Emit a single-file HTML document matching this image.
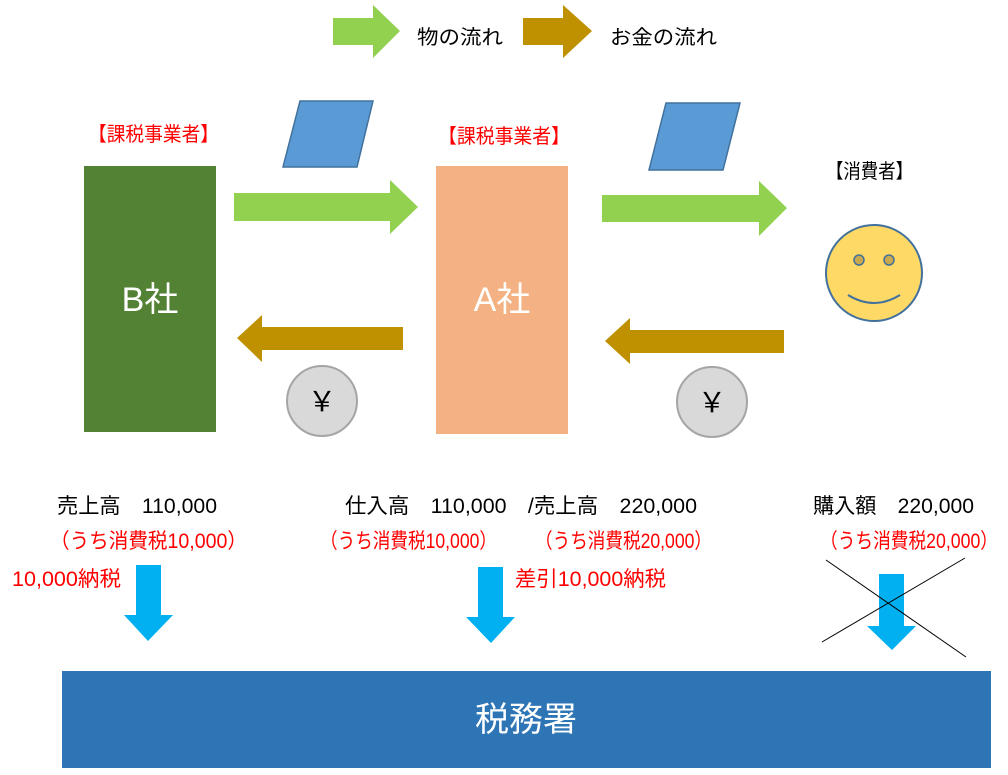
<!DOCTYPE html>
<html><head><meta charset="utf-8"><style>
html,body{margin:0;padding:0;background:#fff;width:1008px;height:775px;overflow:hidden}
svg text{font-family:"Liberation Sans","Noto Sans CJK JP",sans-serif}
</style></head><body>
<svg width="1008" height="775" viewBox="0 0 1008 775" xmlns="http://www.w3.org/2000/svg">
<polygon points="333,18 373,18 373,5 400,31 373,58 373,45 333,45" fill="#92d050"/>
<text x="417" y="44" font-size="20" textLength="86" lengthAdjust="spacingAndGlyphs">物の流れ</text>
<polygon points="523,18 563,18 563,5 592,31 563,58 563,45 523,45" fill="#bf9000"/>
<text x="610" y="44" font-size="20" textLength="107" lengthAdjust="spacingAndGlyphs">お金の流れ</text>

<text x="88" y="141" font-size="20" fill="#ff0000" textLength="131" lengthAdjust="spacingAndGlyphs">【課税事業者】</text>
<text x="438" y="143" font-size="20" fill="#ff0000" textLength="132" lengthAdjust="spacingAndGlyphs">【課税事業者】</text>
<text x="826" y="178" font-size="20" fill="#000" textLength="87" lengthAdjust="spacingAndGlyphs">【消費者】</text>

<rect x="84" y="166" width="132" height="266" fill="#548235"/>
<text x="150" y="311" font-size="34" fill="#fff" text-anchor="middle">B社</text>
<rect x="436" y="166" width="132" height="268" fill="#f4b183"/>
<text x="502" y="311" font-size="34" fill="#fff" text-anchor="middle">A社</text>

<polygon points="300,101 373,101 357,167 283,167" fill="#5b9bd5" stroke="#41719c" stroke-width="1.5"/>
<polygon points="666,103 740,103 723,170 649,170" fill="#5b9bd5" stroke="#41719c" stroke-width="1.5"/>

<polygon points="234,193 390,193 390,180 418,207 390,234 390,221 234,221" fill="#92d050"/>
<polygon points="602,195 759,195 759,181 787,208 759,236 759,222 602,222" fill="#92d050"/>

<polygon points="403,327 262,327 262,315 237,338 262,362 262,350 403,350" fill="#bf9000"/>
<polygon points="784,330 630,330 630,318 605,341 630,364 630,353 784,353" fill="#bf9000"/>

<circle cx="322" cy="401" r="35" fill="#d9d9d9" stroke="#a5a5a5" stroke-width="2"/>
<text x="322" y="411" font-size="28" text-anchor="middle">￥</text>
<circle cx="712" cy="402" r="35" fill="#d9d9d9" stroke="#a5a5a5" stroke-width="2"/>
<text x="712" y="412" font-size="28" text-anchor="middle">￥</text>

<circle cx="874" cy="273" r="48" fill="#ffd966" stroke="#41719c" stroke-width="2"/>
<circle cx="859" cy="260" r="5" fill="#c9a84e" stroke="#41719c" stroke-width="1.5"/>
<circle cx="889" cy="260" r="5" fill="#c9a84e" stroke="#41719c" stroke-width="1.5"/>
<path d="M848,295 Q874,311 900,295" fill="none" stroke="#41719c" stroke-width="2"/>

<text x="57" y="513" font-size="21" textLength="160" lengthAdjust="spacingAndGlyphs">売上高　110,000</text>
<text x="345" y="513" font-size="21" textLength="352" lengthAdjust="spacingAndGlyphs">仕入高　110,000　/売上高　220,000</text>
<text x="813" y="513" font-size="21" textLength="161" lengthAdjust="spacingAndGlyphs">購入額　220,000</text>
<g fill="#ff0000" font-size="21">
<text x="50" y="548" textLength="197" lengthAdjust="spacingAndGlyphs">（うち消費税10,000）</text>
<text x="320" y="548" textLength="177" lengthAdjust="spacingAndGlyphs">（うち消費税10,000）</text>
<text x="535" y="548" textLength="177" lengthAdjust="spacingAndGlyphs">（うち消費税20,000）</text>
<text x="820" y="548" textLength="178" lengthAdjust="spacingAndGlyphs">（うち消費税20,000）</text>
<text x="12" y="586" textLength="109" lengthAdjust="spacingAndGlyphs">10,000納税</text>
<text x="515" y="586" textLength="151" lengthAdjust="spacingAndGlyphs">差引10,000納税</text>
</g>

<polygon points="136,565 161,565 161,615 173,615 148,641 124,615 136,615" fill="#00b0f0"/>
<polygon points="478,567 503,567 503,617 515,617 491,643 466,617 478,617" fill="#00b0f0"/>
<polygon points="879,574 904,574 904,626 916,626 892,650 867,626 879,626" fill="#00b0f0"/>
<line x1="822" y1="642" x2="965" y2="558" stroke="#000" stroke-width="1"/>
<line x1="826" y1="560" x2="966" y2="657" stroke="#000" stroke-width="1"/>

<rect x="62" y="671" width="929" height="97" fill="#2e75b6"/>
<text x="526" y="731" font-size="34" fill="#fff" text-anchor="middle">税務署</text>
</svg>
</body></html>
